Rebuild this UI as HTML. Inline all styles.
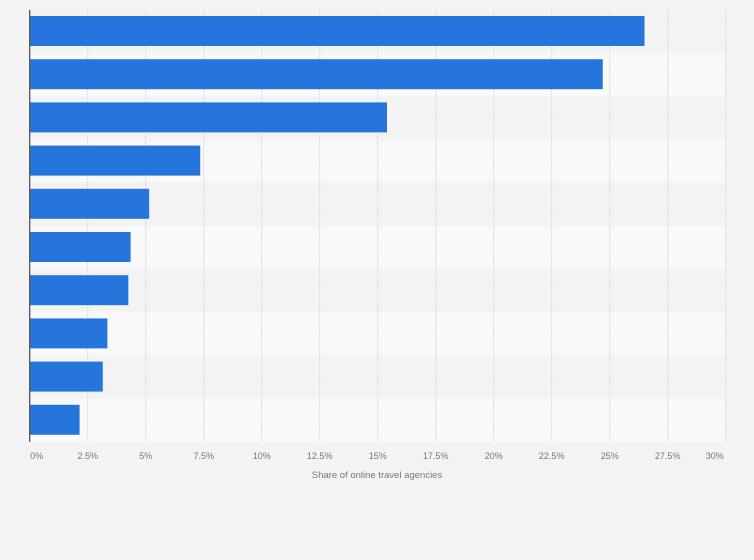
<!DOCTYPE html>
<html><head><meta charset="utf-8"><style>
html,body{margin:0;padding:0;background:#f3f3f3;}
svg{display:block;font-family:"Liberation Sans",sans-serif;}
</style></head><body>
<svg id="chart" width="754" height="560" viewBox="0 0 754 560" xmlns="http://www.w3.org/2000/svg">
<rect width="754" height="560" fill="#f3f3f3"/>
<g id="bands"></g><g id="grid"></g><g id="bars"></g><g id="ticks"></g>
<line x1="29.7" y1="10" x2="29.7" y2="442" stroke="#555" stroke-width="1.3"/>
<text x="377" y="478" font-size="9.5" fill="#777" text-anchor="middle">Share of online travel agencies</text>
</svg>
<script>
const categories = ["c1","c2","c3","c4","c5","c6","c7","c8","c9","c10"];
const values = [26.5, 24.7, 15.4, 7.35, 5.15, 4.35, 4.25, 3.35, 3.15, 2.15];
const tickValues = [0,2.5,5,7.5,10,12.5,15,17.5,20,22.5,25,27.5,30];
const tickLabels = ["0%","2.5%","5%","7.5%","10%","12.5%","15%","17.5%","20%","22.5%","25%","27.5%","30%"];
const NS="http://www.w3.org/2000/svg";
const px0=29.7,px1=725.7,plotTop=10,plotBottom=442;
const xs=v=>px0+(v/30)*(px1-px0);
const rowH=(plotBottom-plotTop)/categories.length;
const ys=i=>plotTop+i*rowH;
function mk(tag,attrs,parent){const e=document.createElementNS(NS,tag);for(const k in attrs)e.setAttribute(k,attrs[k]);document.getElementById(parent).appendChild(e);return e;}
categories.forEach((c,i)=>{
  const b=mk('rect',{x:px0,y:ys(i),width:px1-px0,height:rowH,fill:i%2?'#f9f9f9':'#f3f3f3'},'bands');
  
  
});
tickValues.forEach((t,i)=>{
  if(t>0){const g=mk('line',{x1:xs(t),x2:xs(t),y1:plotTop,y2:plotBottom,stroke:'#d8d8d8','stroke-dasharray':'2,1','stroke-width':1},'grid');
  
  }
  let x=xs(t);if(i===0)x+=7;if(i===tickValues.length-1)x-=11;
  const tx=mk('text',{x:x,y:459,'font-size':9,fill:'#777','text-anchor':'middle'},'ticks');
  tx.textContent=tickLabels[i];
  
  
});
values.forEach((v,i)=>{
  const r=mk('rect',{x:px0,y:ys(i)+6,width:xs(v)-px0,height:30,fill:'#2675dc'},'bars');
  
  
});
</script>
</body></html>
